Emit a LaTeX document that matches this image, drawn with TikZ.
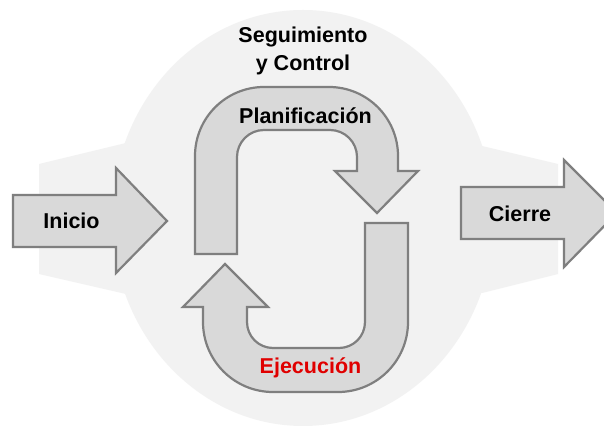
\documentclass[tikz,border=0pt]{standalone}
\usepackage{fontspec}
\setmainfont{Liberation Sans}
\begin{document}
\begin{tikzpicture}[x=1pt,y=1pt,
  bgfill/.style={fill=bgGray, draw=none},
  block/.style={fill=blockGray, draw=edgeGray, line width=2.2pt, line join=miter},
  lbl/.style={font=\fontsize{21.5}{26}\selectfont\bfseries, inner sep=0pt, anchor=base},
]
\definecolor{bgGray}{HTML}{F2F2F2}
\definecolor{blockGray}{HTML}{D9D9D9}
\definecolor{edgeGray}{HTML}{7F7F7F}
\definecolor{execRed}{HTML}{E00000}

\useasboundingbox (0,0) rectangle (604,425);
\clip (0,0) rectangle (604,425);
\fill[white] (0,0) rectangle (604,425);

% background: band with an oval in the middle
\path[bgfill] (39,261) -- (126,282) -- (482,279) -- (558,261) -- (558,151)
  -- (482,132) -- (126,131) -- (39,151) -- cycle;
\path[bgfill] (303,207) ellipse [x radius=191, y radius=208];

% Inicio arrow
\draw[block] (13,178) -- (13,230) -- (116,230) -- (116,257) -- (167,204)
  -- (116,152) -- (116,178) -- cycle;
% Cierre arrow
\draw[block] (461,186) -- (461,238) -- (564,238) -- (564,265) -- (617,212)
  -- (564,158) -- (564,186) -- cycle;

% upper bent arrow (planning)
\draw[block] (195,171) -- (195,269) arc[start angle=180, end angle=90, radius=69pt]
  -- (329,338) arc[start angle=90, end angle=0, radius=69pt]
  -- (398,254) -- (418,254) -- (377,212) -- (335,254) -- (357,254)
  -- (357,268) arc[start angle=0, end angle=90, radius=27pt]
  -- (264,295) arc[start angle=90, end angle=180, radius=27pt]
  -- (237,171) -- cycle;

% lower bent arrow (execution)
\draw[block] (365,202) -- (408,202) -- (408,103) arc[start angle=0, end angle=-90, radius=70pt]
  -- (273,33) arc[start angle=270, end angle=180, radius=70pt]
  -- (203,118) -- (183,118) -- (225,161) -- (268,118) -- (247,118)
  -- (247,103) arc[start angle=180, end angle=270, radius=26pt]
  -- (339,77) arc[start angle=270, end angle=360, radius=26pt]
  -- cycle;

% labels
\node[lbl] (seg) at (303,382) {Seguimiento};
\node[lbl] (ctl) at (303,354) {y Control};
\node[lbl] (plan) at (305.5,301) {Planificación};
\node[lbl] (ini) at (71.5,196) {Inicio};
\node[lbl] (cie) at (520,203) {Cierre};
\node[lbl, text=execRed] (eje) at (310.5,51) {Ejecución};
\end{tikzpicture}
\end{document}
